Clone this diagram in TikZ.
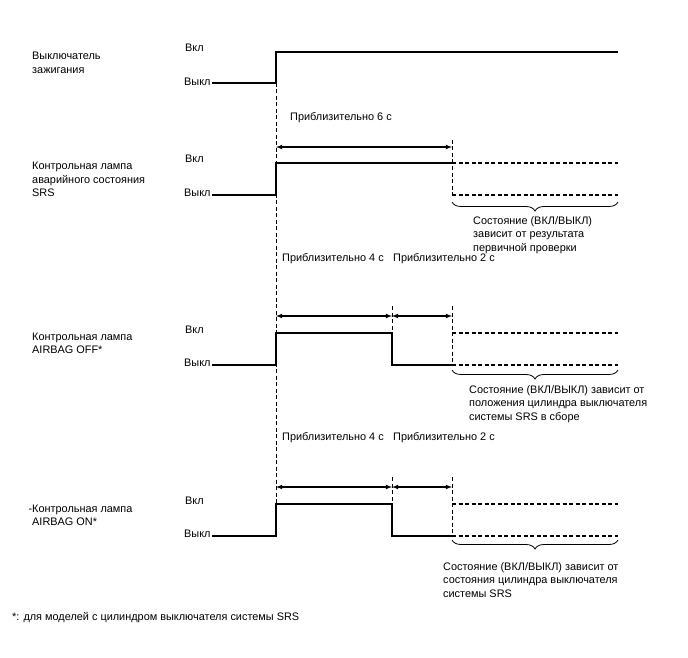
\documentclass[tikz,border=0pt]{standalone}
\usepackage{fontspec}
\setmainfont{Liberation Sans}
\usetikzlibrary{arrows, decorations.pathreplacing, positioning}

\begin{document}
\begin{tikzpicture}
	[x=1pt, y=-1pt, >=latex,
	font=\fontsize{10.9}{13.3}\selectfont,
	signal/.style={line width=1.3pt},
	guide/.style={dash pattern=on 4pt off 2.5pt, line width=0.8pt},
	state/.style={dash pattern=on 4pt off 2.5pt, line width=1.1pt},
	span/.style={<->, line width=1.1pt},
	level/.style={anchor=base west, inner sep=0pt},
	title/.style={anchor=base west, align=left, inner sep=0pt},
	curly/.style={decorate, decoration={brace, mirror, amplitude=9pt}, line width=0.8pt}
	]
	\useasboundingbox (0,0) rectangle (688,658);
	
	% Time marks
	\coordinate (t0) at (276,0);
	\coordinate (t4) at (392,0);
	\coordinate (t6) at (452,0);
	\coordinate (tend) at (618,0);
	
	% Ignition switch (title nodes sit on their last line)
	\node[title] (ign) at (32,73.3) {Выключатель\\зажигания};
	\node[level] (ign-on) at (185,52) {Вкл};
	\node[level] (ign-off) at (184,85.5) {Выкл};
	\draw[signal] ([xshift=1.5pt]ign-off.east |- 0,83) -- (t0 |- 0,83) -- (t0 |- 0,52) -- (tend |- 0,52);
	\draw[guide] (t0 |- 0,83) -- (t0 |- 0,536);
	
	% SRS warning lamp
	\node[title] (srs) at (32,196.5) {Контрольная лампа\\аварийного состояния\\SRS};
	\node[level] (srs-on) at (185,163) {Вкл};
	\node[level] (srs-off) at (184,196) {Выкл};
	\node[level] (srs-t6) at (290,120.5) {Приблизительно 6 с};
	\draw[span] (t0 |- 0,147) -- (t6 |- 0,147);
	\draw[signal] ([xshift=1.5pt]srs-off.east |- 0,195) -- (t0 |- 0,195) -- (t0 |- 0,163) -- (t6 |- 0,163);
	\draw[guide] (t6 |- 0,140) -- (t6 |- 0,195);
	\draw[state] (t6 |- 0,163) -- (tend |- 0,163);
	\draw[state] (t6 |- 0,195) -- (tend |- 0,195);
	\draw[curly] (t6 |- 0,202) -- (tend |- 0,202);
	\node[title] (srs-note) at (473,251) {Состояние (ВКЛ/ВЫКЛ)\\зависит от результата\\первичной проверки};
	
	% AIRBAG OFF lamp
	\node[title] (off) at (32,353.5) {Контрольная лампа\\AIRBAG OFF*};
	\node[level] (off-on) at (185,333) {Вкл};
	\node[level] (off-off) at (184,366.5) {Выкл};
	\node[level] (off-t4) at (282,261) {Приблизительно 4 с};
	\node[level] (off-t2) at (393,261) {Приблизительно 2 с};
	\draw[span] (t0 |- 0,316) -- (t4 |- 0,316);
	\draw[span] (t4 |- 0,316) -- (t6 |- 0,316);
	\draw[signal] ([xshift=1.5pt]off-off.east |- 0,365) -- (t0 |- 0,365) -- (t0 |- 0,333) -- (t4 |- 0,333) -- (t4 |- 0,365) -- (t6 |- 0,365);
	\draw[guide] (t4 |- 0,306) -- (t4 |- 0,333);
	\draw[guide] (t6 |- 0,306) -- (t6 |- 0,365);
	\draw[state] (t6 |- 0,333) -- (tend |- 0,333);
	\draw[state] (t6 |- 0,365) -- (tend |- 0,365);
	\draw[curly] (t6 |- 0,370) -- (tend |- 0,370);
	\node[title] (off-note) at (469,420) {Состояние (ВКЛ/ВЫКЛ) зависит от\\положения цилиндра выключателя\\системы SRS в сборе};
	
	% AIRBAG ON lamp
	\node[title] (on) at (32,525.5) {\llap{-}Контрольная лампа\\AIRBAG ON*};
	\node[level] (on-on) at (185,504) {Вкл};
	\node[level] (on-off) at (184,537.5) {Выкл};
	\node[level] (on-t4) at (282,440.5) {Приблизительно 4 с};
	\node[level] (on-t2) at (393,440.5) {Приблизительно 2 с};
	\draw[span] (t0 |- 0,487) -- (t4 |- 0,487);
	\draw[span] (t4 |- 0,487) -- (t6 |- 0,487);
	\draw[signal] ([xshift=1.5pt]on-off.east |- 0,536) -- (t0 |- 0,536) -- (t0 |- 0,504) -- (t4 |- 0,504) -- (t4 |- 0,536) -- (t6 |- 0,536);
	\draw[guide] (t4 |- 0,477) -- (t4 |- 0,504);
	\draw[guide] (t6 |- 0,477) -- (t6 |- 0,536);
	\draw[state] (t6 |- 0,504) -- (tend |- 0,504);
	\draw[state] (t6 |- 0,536) -- (tend |- 0,536);
	\draw[curly] (t6 |- 0,540) -- (tend |- 0,540);
	\node[title] (on-note) at (443,597) {Состояние (ВКЛ/ВЫКЛ) зависит от\\состояния цилиндра выключателя\\системы SRS};
	
	% Footnote
	\node[level] (foot) at (12,620.5) {*: для моделей с цилиндром выключателя системы SRS};
\end{tikzpicture}
\end{document}
